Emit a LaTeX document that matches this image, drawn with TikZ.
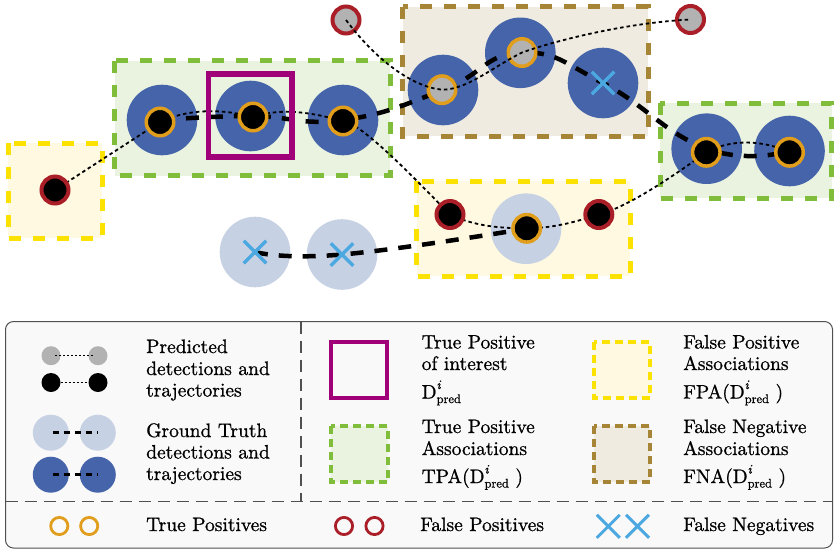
\documentclass[tikz,border=0pt]{standalone}
\usepackage{fontspec}
\newfontfamily\lbfont{lmroman10-regular.otf}[FakeBold=0.8, ItalicFont=lmroman10-italic.otf, ItalicFeatures={FakeBold=0.8}]
\usetikzlibrary{shapes.misc}
\definecolor{blueD}{RGB}{69,100,170}
\definecolor{blueL}{RGB}{199,209,228}
\definecolor{ringO}{RGB}{224,158,28}
\definecolor{ringR}{RGB}{170,30,40}
\definecolor{dotG}{RGB}{178,178,178}
\definecolor{greenC}{RGB}{128,189,58}
\definecolor{greenF}{RGB}{234,243,224}
\definecolor{yellowC}{RGB}{252,226,0}
\definecolor{yellowF}{RGB}{254,249,224}
\definecolor{brownC}{RGB}{166,133,55}
\definecolor{brownF}{RGB}{239,235,224}
\definecolor{magentaC}{RGB}{160,0,120}
\definecolor{xB}{RGB}{75,168,225}
\definecolor{legB}{RGB}{80,80,80}
\definecolor{legF}{RGB}{249,249,249}
\newcommand{\Dpi}{D\rlap{\raisebox{9.5pt}{\fontsize{13}{14}\selectfont\itshape i}}\raisebox{-4.5pt}{\fontsize{12.5}{14}\selectfont pred}}
\begin{document}
\begin{tikzpicture}[x=1pt,y=-1pt,
  bigbox/.style={line width=5pt, dash pattern=on 12pt off 12pt},
  smallbox/.style={line width=4pt, dash pattern=on 8pt off 5pt},
  gtd/.style={circle, fill=blueD, minimum size=70.6pt, inner sep=0pt},
  gtl/.style={circle, fill=blueL, minimum size=70.6pt, inner sep=0pt},
  tpring/.style={circle, draw=ringO, line width=3.5pt, fill=black, minimum size=27.5pt, inner sep=0pt},
  tpgrey/.style={tpring, fill=dotG},
  fpring/.style={circle, draw=ringR, line width=4pt, fill=black, minimum size=27pt, inner sep=0pt},
  fpgrey/.style={fpring, fill=dotG},
  gtline/.style={line width=4.5pt, dash pattern=on 13pt off 11pt},
  predline/.style={line width=1.8pt, dash pattern=on 3.5pt off 3pt},
  fnx/.style={cross out, draw=xB, line width=3.5pt, minimum size=19pt, inner sep=0pt},
  lbl/.style={anchor=base west, inner sep=0pt, font=\lbfont\fontsize{19.5}{21.5}\selectfont, text=black},
]
\useasboundingbox (0,0) rectangle (834,550);

% ---------- association boxes ----------
\draw[bigbox, draw=yellowC, fill=yellowF] (8,143) rectangle (102,238);
\draw[bigbox, draw=greenC, fill=greenF] (114.5,60.5) rectangle (390.3,175.5);
\draw[bigbox, draw=brownC, fill=brownF] (402.5,6.7) rectangle (648,136);
\draw[bigbox, draw=greenC, fill=greenF] (660.3,103) rectangle (831.5,198.3);
\draw[bigbox, draw=yellowC, fill=yellowF] (416.5,181) rectangle (630,276);

% ---------- ground truth ----------
\node[gtd] (b1) at (162,120) {};
\node[gtd] (b2) at (250.5,116) {};
\node[gtd] (b3) at (343,120) {};
\node[gtd] (b4) at (443,90) {};
\node[gtd] (b5) at (520.3,52.8) {};
\node[gtd] (b6) at (603,83) {};
\node[gtd] (b7) at (706.7,148.7) {};
\node[gtd] (b8) at (789.5,151) {};
\node[gtl] (l1) at (255,252) {};
\node[gtl] (l2) at (342,254.5) {};
\node[gtl] (l3) at (526,228.7) {};

\draw[gtline] plot[smooth, tension=0.8] coordinates {(b1.center) (b2.center) (b3.center) (b4.center) (b5.center) (b6.center) (b7.center) (b8.center)};
\draw[gtline] plot[smooth, tension=0.8] coordinates {(l1.center) (l2.center) (l3.center)};

\node[fnx] (x1) at (b6) {};
\node[fnx] (x2) at (l1) {};
\node[fnx] (x3) at (l2) {};

% ---------- predictions ----------
\coordinate (p0) at (55,190);
\coordinate (p1) at (160,122);
\coordinate (p2) at (253,117);
\coordinate (p3) at (343,121);
\coordinate (p4) at (450,214.5);
\coordinate (p5) at (526.7,228.3);
\coordinate (p6) at (598.8,214.5);
\coordinate (p7) at (706.3,152.3);
\coordinate (p8) at (789.5,152.3);
\coordinate (q0) at (346,20);
\coordinate (q1) at (442,89.7);
\coordinate (q2) at (522,52.5);
\coordinate (q3) at (690.5,19.5);

\draw[predline] (p0) -- (p1)
  .. controls +(30,-14) and +(-30,-8) .. (p2)
  .. controls +(30,-10) and +(-30,-8) .. (p3)
  .. controls +(20,2) and +(-25,-25) .. (p4)
  .. controls +(25,12) and +(-25,0) .. (p5)
  .. controls +(25,0) and +(-25,8) .. (p6)
  .. controls +(30,-8) and +(-35,25) .. (p7)
  .. controls +(25,-14) and +(-25,-12) .. (p8);

\node[fpring] (r0) at (p0) {};
\node[tpring] (o1) at (p1) {};
\node[tpring] (o2) at (p2) {};
\node[tpring] (o3) at (p3) {};
\node[fpring] (r1) at (p4) {};
\node[tpring] (o6) at (p5) {};
\node[fpring] (r2) at (p6) {};
\node[tpring] (o7) at (p7) {};
\node[tpring] (o8) at (p8) {};
\node[fpgrey] (r3) at (q0) {};
\node[tpgrey] (o4) at (q1) {};
\node[tpgrey] (o5) at (q2) {};
\node[fpgrey] (r4) at (q3) {};

\draw[predline] (r3.center) .. controls +(30,40) and +(-30,-3) .. (o4.center)
  .. controls +(25,0) and +(-30,15) .. (o5.center)
  .. controls +(40,-14) and +(-60,3) .. (r4.center);

\draw[draw=magentaC, line width=5.5pt] (208.5,73.8) rectangle (292.2,157.2);

% ---------- legend ----------
\draw[draw=legB, fill=legF, line width=1pt, rounded corners=8pt] (5.5,321.5) rectangle (832.5,548);
\draw[legB, line width=1.1pt, dash pattern=on 12pt off 7pt] (5.5,501.3) -- (832.5,501.3);
\draw[legB, line width=1.1pt, dash pattern=on 12pt off 7pt] (301,321.5) -- (301,501.3);

\node[circle, fill=dotG, minimum size=19pt, inner sep=0pt] (lg1) at (51,355.7) {};
\node[circle, fill=dotG, minimum size=19pt, inner sep=0pt] (lg2) at (98,355.7) {};
\node[circle, fill=black, minimum size=19pt, inner sep=0pt] (lk1) at (51,382.5) {};
\node[circle, fill=black, minimum size=19pt, inner sep=0pt] (lk2) at (98,382.5) {};
\draw[line width=1.2pt, dash pattern=on 2pt off 2pt, shorten <=4pt, shorten >=4pt] (lg1.center) -- (lg2.center);
\draw[line width=1.2pt, dash pattern=on 2pt off 2pt] (lk1) -- (lk2);

\node[gtl, minimum size=36pt] (ll1) at (50.8,432.7) {};
\node[gtl, minimum size=36pt] (ll2) at (97.8,432.7) {};
\node[gtd, minimum size=36pt] (ld1) at (50.8,474.7) {};
\node[gtd, minimum size=36pt] (ld2) at (97.8,474.7) {};
\draw[line width=2.5pt, dash pattern=on 6pt off 5pt, shorten <=2pt] (ll1.center) -- (ll2.center);
\draw[line width=2.5pt, dash pattern=on 6pt off 5pt, shorten <=2pt] (ld1.center) -- (ld2.center);

\node[circle, draw=ringO, line width=2.8pt, minimum size=17.2pt, inner sep=0pt] (lo1) at (59.3,526) {};
\node[circle, draw=ringO, line width=2.8pt, minimum size=17.2pt, inner sep=0pt] (lo2) at (89.2,526) {};
\node[circle, draw=ringR, line width=2.8pt, minimum size=17.2pt, inner sep=0pt] (lr1) at (344,526) {};
\node[circle, draw=ringR, line width=2.8pt, minimum size=17.2pt, inner sep=0pt] (lr2) at (374.5,526) {};
\node[fnx, line width=3pt, minimum size=20pt] (lx1) at (608.3,526.3) {};
\node[fnx, line width=3pt, minimum size=20pt] (lx2) at (637.5,526.3) {};

\draw[draw=magentaC, line width=4pt] (331.3,341.7) rectangle (387.3,397.7);
\draw[smallbox, draw=greenC, fill=greenF] (331,426) rectangle (387.5,482);
\draw[smallbox, draw=yellowC, fill=yellowF] (593.7,341.7) rectangle (649.7,397.7);
\draw[smallbox, draw=brownC, fill=brownF] (593.7,426) rectangle (649.7,482);

\node[lbl] (t1) at (146,353) {Predicted};
\node[lbl] (t2) at (146,375) {detections and};
\node[lbl] (t3) at (146,396.5) {trajectories};
\node[lbl] (t4) at (146,437) {Ground Truth};
\node[lbl] (t5) at (146,458.5) {detections and};
\node[lbl] (t6) at (146,480) {trajectories};
\node[lbl] (t7) at (146,531) {True Positives};

\node[lbl] (t8) at (421.5,348.5) {True Positive};
\node[lbl] (t9) at (421.5,370) {of interest};
\node[lbl] (t10) at (421.5,398.5) {\Dpi};
\node[lbl] (t11) at (421.5,433) {True Positive};
\node[lbl] (t12) at (421.5,455) {Associations};
\node[lbl] (t13) at (421.5,483) {TPA(\Dpi\ )};
\node[lbl] (t14) at (420,531) {False Positives};

\node[lbl] (t15) at (683,348.5) {False Positive};
\node[lbl] (t16) at (683,370) {Associations};
\node[lbl] (t17) at (683,398.5) {FPA(\Dpi\ )};
\node[lbl] (t18) at (683,433) {False Negative};
\node[lbl] (t19) at (683,455) {Associations};
\node[lbl] (t20) at (683,483) {FNA(\Dpi\ )};
\node[lbl] (t21) at (683,531) {False Negatives};
\end{tikzpicture}
\end{document}
